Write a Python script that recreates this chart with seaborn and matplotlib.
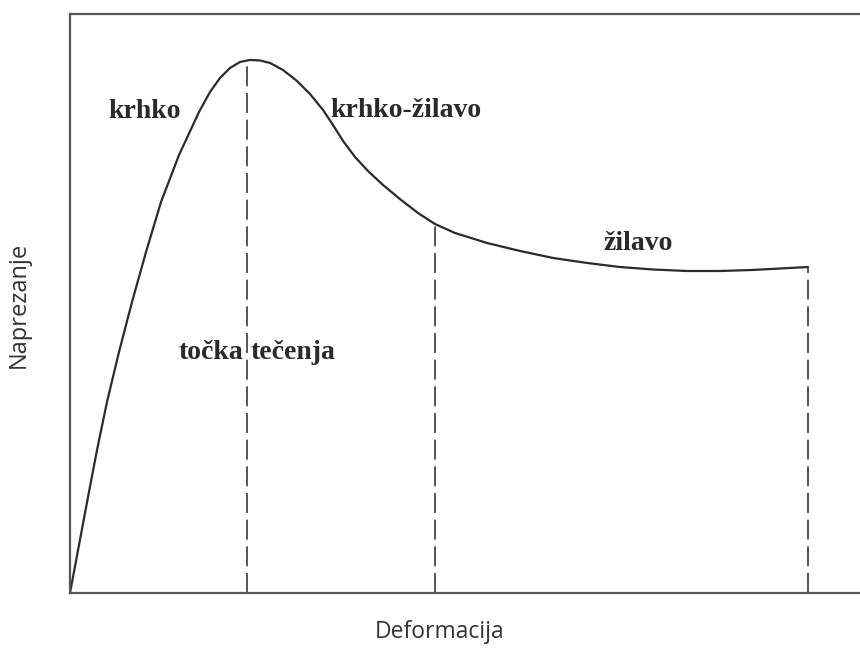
import matplotlib
matplotlib.use("Agg")
import matplotlib.pyplot as plt
import seaborn as sns
import pandas as pd

# stress-strain curve (x: deformation %, y: stress %)
deformacija = [0, 1.14, 2.28, 3.42, 4.68, 6.20, 7.85, 9.62, 11.52, 13.80,
               16.33, 17.72, 18.99, 20.25, 21.52, 22.78, 24.05, 25.32, 26.96,
               28.73, 30.38, 32.03, 33.29, 34.56, 36.08, 37.72, 39.62, 41.77,
               44.05, 46.20, 48.73, 52.78, 56.96, 61.14, 65.44, 69.62, 73.80,
               78.10, 82.28, 86.46, 89.87, 93.42]
naprezanje = [0, 8.29, 16.58, 24.70, 32.99, 41.62, 50.26, 58.89, 67.53, 75.65,
              83.07, 86.53, 88.95, 90.67, 91.71, 92.06, 91.97, 91.54, 90.33,
              88.43, 86.18, 83.42, 80.83, 78.07, 75.30, 72.88, 70.47, 68.03,
              65.63, 63.73, 62.18, 60.45, 59.07, 57.86, 57.00, 56.30, 55.87,
              55.61, 55.61, 55.79, 56.04, 56.30]

# dashed markers: yield point, brittle-ductile end, fracture
granice_x = [22.41, 46.20, 93.42]
granice_y = [92.06, 63.73, 56.30]

oznake = ["krhko", "krhko-žilavo", "žilavo"]
oznake_x = [9.5, 42.5, 71.9]
oznake_y = [83.1, 83.4, 60.4]

sns.set_theme(style="white")
plt.rcParams["font.family"] = ["Open Sans", "DejaVu Sans"]

df = pd.DataFrame({"Deformacija": deformacija, "Naprezanje": naprezanje})

fig = plt.figure(figsize=(8.6, 6.5), dpi=100)
ax = fig.add_axes([0.0814, 0.0877, 0.9186, 0.8908])

sns.lineplot(data=df, x="Deformacija", y="Naprezanje", ax=ax,
             color="#2b2b2b", linewidth=1.6, sort=False)

ax.vlines(granice_x, 0, granice_y, colors="#3a3a3a", linewidth=1.2,
          linestyles=(0, (12, 4)))

serif = dict(family="Liberation Serif", fontweight="bold", fontsize=20,
             color="#2a2a2a", va="center")
for t, x, y in zip(oznake, oznake_x, oznake_y):
    ax.text(x, y, t, ha="center", **serif)
ax.text(21.9, 41.5, "točka", ha="right", **serif)
ax.text(22.9, 41.5, "tečenja", ha="left", **serif)

ax.set_xlim(0, 100)
ax.set_ylim(0, 100)
ax.set_xticks([])
ax.set_yticks([])
ax.spines["right"].set_visible(False)
for s in ["left", "top", "bottom"]:
    ax.spines[s].set_color("#555555")
    ax.spines[s].set_linewidth(1.6)

ax.set_xlabel("")
ax.set_ylabel("")
fig.text(440 / 860, 1 - 632 / 650, "Deformacija", ha="center", va="center",
         fontsize=16.5, color="#333333")
fig.text(19 / 860, 1 - 305 / 650, "Naprezanje", ha="center", va="center",
         rotation=90, fontsize=17, color="#333333")

fig.savefig("out.png", dpi=100)
